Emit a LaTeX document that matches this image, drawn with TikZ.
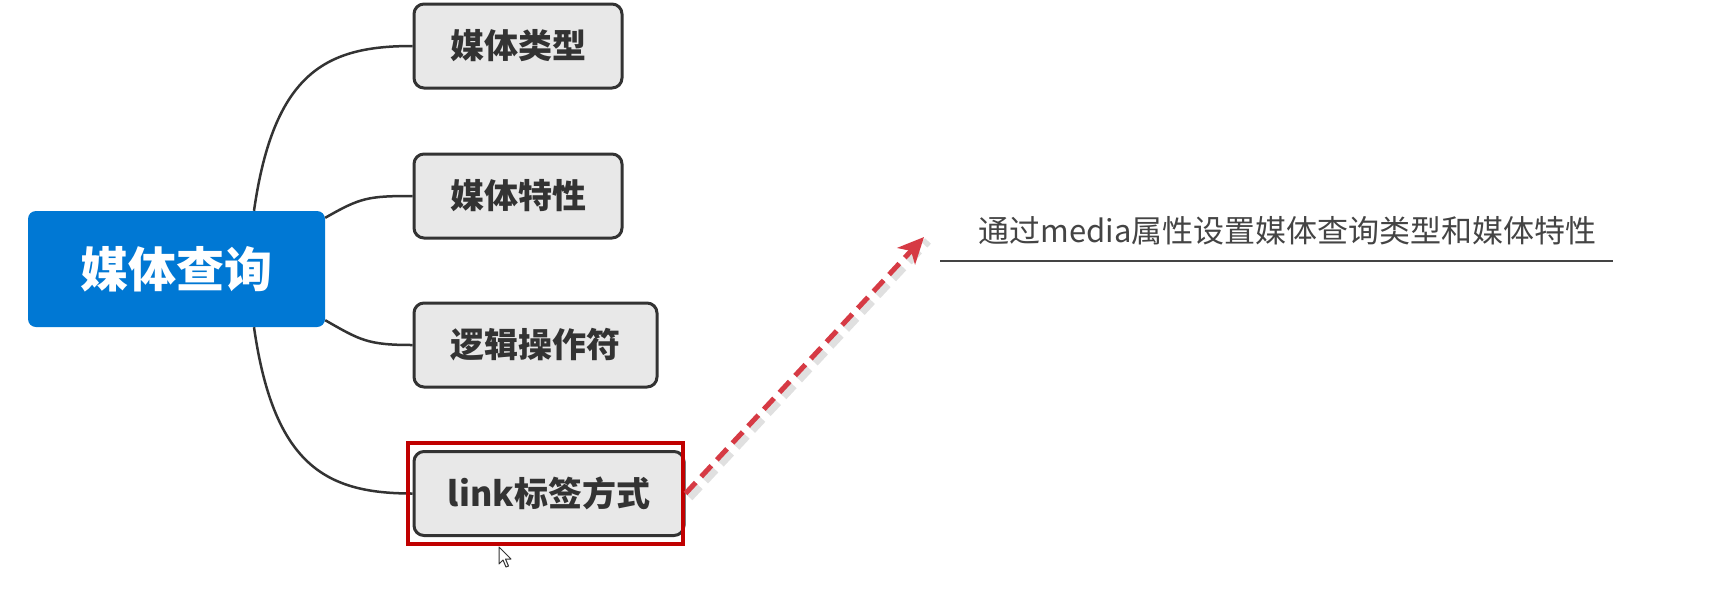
\documentclass[tikz,border=0pt]{standalone}
\usepackage{fontspec}
\newfontfamily\cjk{Noto Sans CJK SC}
\usetikzlibrary{arrows.meta}
\definecolor{blueC}{RGB}{0,120,212}
\definecolor{boxfill}{RGB}{232,232,232}
\definecolor{boxline}{RGB}{51,51,51}
\definecolor{frameRed}{RGB}{192,0,0}
\definecolor{arrowRed}{RGB}{214,58,68}
\definecolor{txtgray}{RGB}{68,68,68}
\begin{document}
\begin{tikzpicture}[x=1pt,y=-1pt,
  topic/.style={rectangle, rounded corners=8pt, fill=blueC, text=white,
    font=\cjk\bfseries\fontsize{48}{56}\selectfont, inner sep=0pt,
    minimum width=297pt, minimum height=116pt},
  sub/.style={rectangle, rounded corners=10pt, fill=boxfill, draw=boxline,
    line width=3pt, text=boxline, font=\cjk\bfseries\fontsize{34}{40}\selectfont,
    inner sep=0pt, minimum height=84pt},
  branch/.style={draw=boxline, line width=2.5pt},
  noteline/.style={draw=txtgray, line width=2pt},
  notetext/.style={text=txtgray, font=\cjk\fontsize{31}{36}\selectfont, inner sep=0pt},
  redframe/.style={draw=frameRed, line width=4pt, inner sep=0pt},
  callarrow/.style={draw=arrowRed, line width=5pt, dash pattern=on 15pt off 8pt,
    -{Stealth[length=26pt,width=24pt,inset=7pt]}},
  arrowshadow/.style={draw=black, opacity=0.12, line width=8pt, dash pattern=on 15pt off 8pt},
  cursor/.style={draw=black!80, fill=white, line width=1pt, line join=round}
]
\useasboundingbox (0,0) rectangle (1716,598);
\fill[white] (0,0) rectangle (1716,598);

% central topic
\node[topic] (c) at (176.5,269) {媒体查询};

% sub topics
\node[sub, minimum width=208pt] (b1) at (518,46) {媒体类型};
\node[sub, minimum width=208pt] (b2) at (518,196) {媒体特性};
\node[sub, minimum width=243pt] (b3) at (535.5,345) {逻辑操作符};
\node[sub, minimum width=270pt] (b4) at (549,493.5) {link标签方式};

% branches
\draw[branch] ([xshift=77.5pt]c.north) .. controls +(20,-140) and +(-85,0) .. (b1.west);
\draw[branch] ([yshift=-7pt]c.north east) .. controls +(35,-20) and +(-45,0) .. (b2.west);
\draw[branch] ([yshift=7pt]c.south east) .. controls +(35,20) and +(-45,0) .. (b3.west);
\draw[branch] ([xshift=77.5pt]c.south) .. controls +(20,140) and +(-85,0) .. (b4.west);

% red highlight frame
\node[redframe, minimum width=275pt, minimum height=101pt] (rf) at (545.5,493.5) {};

% note
\node[notetext] (note) at (1287.5,231) {通过media属性设置媒体查询类型和媒体特性};
\coordinate (l1) at (940,261);
\coordinate (l2) at (1613,261);
\draw[noteline] (l1) -- (l2);

% arrow
\coordinate (a2) at (924,237);
\draw[arrowshadow] ([shift={(4pt,-4pt)}]b4.east) -- ([shift={(4pt,-4pt)}]a2);
\draw[callarrow] (b4.east) -- (a2);

% mouse cursor
\draw[cursor] (499,547) -- ++(0,17) -- ++(4,-4) -- ++(3,7) -- ++(2.5,-1) -- ++(-3,-7) -- ++(5.5,0) -- cycle;
\end{tikzpicture}
\end{document}
